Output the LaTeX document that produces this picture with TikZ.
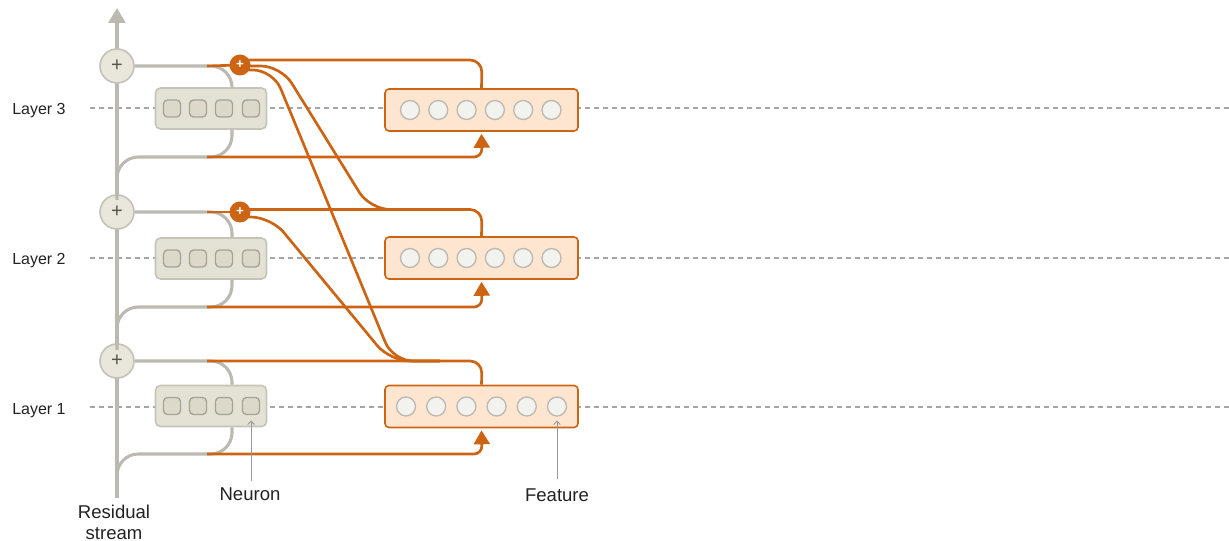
\documentclass[tikz,border=0pt]{standalone}
\usepackage{fontspec}
\setmainfont{Liberation Sans}
\usetikzlibrary{arrows.meta}

\definecolor{rust}{HTML}{CC6414}
\definecolor{peach}{HTML}{FDE5CF}
\definecolor{stream}{HTML}{BCB9B1}
\definecolor{plusfill}{HTML}{E9E6DC}
\definecolor{plusedge}{HTML}{C4C1B8}
\definecolor{mlpfill}{HTML}{E4E1D5}
\definecolor{mlpedge}{HTML}{C6C3B8}
\definecolor{cellfill}{HTML}{DCD8CA}
\definecolor{celledge}{HTML}{A7A394}
\definecolor{featfill}{HTML}{F2F2EE}
\definecolor{featedge}{HTML}{BDB9B1}
\definecolor{ink}{HTML}{222222}
\definecolor{plusink}{HTML}{55534D}

\begin{document}
\begin{tikzpicture}[x=0.75pt,y=-0.75pt,
  streamline/.style={draw=stream, line width=2.3pt},
  wire/.style={draw=rust, line width=2pt},
  sumnode/.style={circle, draw=plusedge, line width=1.2pt, fill=plusfill,
    minimum size=25.5pt, inner sep=0pt, text=plusink,
    font=\fontsize{15}{15}\selectfont},
  osum/.style={circle, fill=rust, minimum size=15.75pt, inner sep=0pt,
    text=white, font=\fontsize{10}{10}\selectfont\bfseries},
  mlp/.style={rectangle, rounded corners=3.75pt, draw=mlpedge, line width=1.2pt,
    fill=mlpfill, minimum width=83.25pt, minimum height=30.75pt},
  cell/.style={rectangle, rounded corners=3pt, draw=celledge, line width=1pt,
    fill=cellfill, minimum size=12.75pt, inner sep=0pt},
  feats/.style={rectangle, rounded corners=3pt, draw=rust, line width=1.2pt,
    fill=peach, minimum width=144.75pt, minimum height=31.5pt},
  feat/.style={circle, draw=featedge, line width=1pt, fill=featfill,
    minimum size=14.25pt, inner sep=0pt},
  layerline/.style={draw=black!35, line width=0.8pt, dash pattern=on 3.75pt off 3pt},
  pointer/.style={draw=black!40, line width=0.7pt, -{Straight Barb[length=2.5pt,width=5pt]}},
  caption/.style={text=ink, font=\fontsize{13.9}{15.75}\selectfont, inner sep=0pt, align=center},
  layerlabel/.style={text=ink, font=\fontsize{12}{14}\selectfont, inner sep=0pt, anchor=base west},
  intip/.style={-{Triangle[length=10.5pt,width=12pt]}}
]
\useasboundingbox (0,0) rectangle (1229,541);

% layer guides
\draw[layerline] (90,108) -- (1229,108);
\draw[layerline] (90,258) -- (1229,258);
\draw[layerline] (90,407) -- (1229,407);
\node[layerlabel] (l3) at (12,115) {Layer 3};
\node[layerlabel] (l2) at (12,265) {Layer 2};
\node[layerlabel] (l1) at (12,415) {Layer 1};

% residual stream
\coordinate (rsbot) at (117,498);
\coordinate (rstop) at (117,8);
\draw[streamline, -{Triangle[length=11.25pt,width=12.75pt]}] (rsbot) -- (rstop);

% sum nodes on the stream
\node[sumnode] (gp3) at (117,66) {+};
\node[sumnode] (gp2) at (117,212) {+};
\node[sumnode] (gp1) at (117,361) {+};

% MLP blocks
\node[mlp] (nb3) at (211,108.5) {};
\node[mlp] (nb2) at (211,258.5) {};
\node[mlp] (nb1) at (211,406) {};
\foreach \L in {1,2,3}{
  \foreach \i/\x in {1/172,2/198,3/224,4/251}{
    \node[cell] (n\L\i) at (\x, 0 |- nb\L.center) {};
  }
}

% MLP read / write branches
\begin{scope}[streamline, rounded corners=16pt]
  \draw (gp3.east) -- (232,66) -- (nb3.north -| 232,0);
  \draw (117,200) -- (117,157) -- (232,157) -- (nb3.south -| 232,0);
  \draw (gp2.east) -- (232,212) -- (nb2.north -| 232,0);
  \draw (117,350) -- (117,307) -- (232,307) -- (nb2.south -| 232,0);
  \draw (gp1.east) -- (232,361) -- (nb1.north -| 232,0);
  \draw (117,497) -- (117,454) -- (232,454) -- (nb1.south -| 232,0);
\end{scope}

% feature blocks
\node[feats] (fb3) at (481.5,110) {};
\node[feats] (fb2) at (481.5,258) {};
\node[feats] (fb1) at (481.5,406.5) {};
\foreach \L in {2,3}{
  \foreach \i in {0,...,5}{
    \node[feat] (f\L\i) at (410+28.3*\i, 0 |- fb\L.center) {};
  }
}
\foreach \i in {0,...,5}{
  \node[feat] (f1\i) at (406+30.2*\i, 0 |- fb1.center) {};
}

% encoder inputs into the feature blocks
\draw[wire, intip, rounded corners=6pt] (207,157) -- (482,157) -- ([yshift=-1.5pt]fb3.south);
\draw[wire, intip, rounded corners=6pt] (207,307) -- (482,307) -- ([yshift=-1.5pt]fb2.south);
\draw[wire, intip, rounded corners=6pt] (207,454) -- (482,454) -- ([yshift=-1.5pt]fb1.south);

% orange sum nodes
\coordinate (s3) at (240,65);
\coordinate (s2) at (240,212);

% decoder outputs, same layer
\draw[wire, rounded corners=9pt] (fb3.north) -- (482,60) -- (s3 |- 0,60);
\draw[wire, rounded corners=9pt] (fb2.north) -- (482,209.5) -- (s2 |- 0,209.5);
\draw[wire, rounded corners=9pt] (fb1.north) -- (482,361) -- (207,361);
\draw[wire] (207,66) -- (s3);
\draw[wire] (207,212) -- (s2);

% decoder outputs, later layers
\coordinate (j2) at (430,209.5);
\coordinate (j1) at (440,361);
\draw[wire, rounded corners=15pt] (240,66) -- (281,66) -- (370,209.5) -- (j2);
\draw[wire, rounded corners=15pt] (240,70) -- (273,70) -- (393,361) -- (j1);
\draw[wire, rounded corners=15pt] (240,217) -- (271,217) -- (390,361) -- (j1);

\node[osum] (op3) at (s3) {+};
\node[osum] (op2) at (s2) {+};

% captions
\node[caption] (neuron) at (250,494) {Neuron};
\node[caption] (feature) at (557,495) {Feature};
\node[caption] (resid) at (114,522) {Residual\\stream};
\coordinate (np) at (n14.center |- 0,481);
\coordinate (fp) at (f15.center |- 0,479);
\draw[pointer] (np) -- ([yshift=-4pt]n14.south);
\draw[pointer] (fp) -- ([yshift=-3pt]f15.south);
\end{tikzpicture}
\end{document}
